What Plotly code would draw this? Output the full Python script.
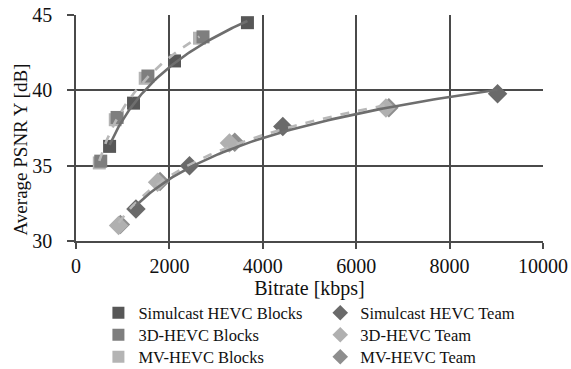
import numpy as np
import plotly.graph_objects as go

# ---- data ----
sim_blocks_x = [719, 1232, 2109, 3671]
sim_blocks_y = [36.28, 39.15, 41.95, 44.49]
d3_blocks_x = [530, 880, 1540, 2720]
d3_blocks_y = [35.3, 38.2, 40.95, 43.55]
mv_blocks_x = [499, 841, 1482, 2645]
mv_blocks_y = [35.18, 38.05, 40.8, 43.46]

sim_team_x = [1283, 2430, 4428, 9027]
sim_team_y = [32.13, 35.0, 37.6, 39.77]
d3_team_x = [912, 1746, 3286, 6637]
d3_team_y = [31.03, 33.9, 36.5, 38.82]
mv_team_x = [950, 1800, 3400, 6700]
mv_team_y = [31.1, 33.95, 36.55, 38.85]

x_ticks = [0, 2000, 4000, 6000, 8000, 10000]
y_ticks = [30, 35, 40, 45]

FONT = "Liberation Serif, Times New Roman, serif"

fig = go.Figure()


def log_trend(xs, ys, color, dash):
    a, b = np.polyfit(np.log(xs), ys, 1)
    xx = np.linspace(min(xs), max(xs), 80)
    fig.add_trace(go.Scatter(x=xx, y=a * np.log(xx) + b, mode="lines",
                             line=dict(color=color, width=2.6, dash=dash),
                             showlegend=False, hoverinfo="skip"))


# name, x, y, symbol, colour, legend column, legend row
series = [
    ("MV-HEVC Blocks", mv_blocks_x, mv_blocks_y, "square", "#b4b4b4", 0, 2),
    ("3D-HEVC Blocks", d3_blocks_x, d3_blocks_y, "square", "#7e7e7e", 0, 1),
    ("Simulcast HEVC Blocks", sim_blocks_x, sim_blocks_y, "square", "#575757", 0, 0),
    ("MV-HEVC Team", mv_team_x, mv_team_y, "diamond", "#8e8e8e", 1, 2),
    ("3D-HEVC Team", d3_team_x, d3_team_y, "diamond", "#b0b0b0", 1, 1),
    ("Simulcast HEVC Team", sim_team_x, sim_team_y, "diamond", "#6a6a6a", 1, 0),
]

legends = {}
for i, (name, xs, ys, sym, col, c, r) in enumerate(series):
    key = "legend" if i == 0 else f"legend{i + 1}"
    fig.add_trace(go.Scatter(x=xs, y=ys, mode="markers", name=name, legend=key,
                             marker=dict(symbol=sym, size=13 if sym == "square" else 15,
                                         color=col, line=dict(width=0))))
    top_px = 295.5 + 22 * r
    legends[key] = dict(orientation="v", yanchor="top", y=-(top_px - 241) / 226,
                        xanchor="left", x=[0.048, 0.523][c],
                        itemwidth=30, itemsizing="constant",
                        bgcolor="rgba(0,0,0,0)",
                        font=dict(family=FONT, size=16.5, color="#111"))

log_trend(mv_blocks_x, mv_blocks_y, "#b8b8b8", "dash")
log_trend(sim_blocks_x, sim_blocks_y, "#6e6e6e", "solid")
log_trend(d3_team_x, d3_team_y, "#b8b8b8", "dash")
log_trend(sim_team_x, sim_team_y, "#6e6e6e", "solid")

fig.update_layout(
    width=571, height=369,
    margin=dict(l=76, r=28, t=15, b=128, autoexpand=False),
    paper_bgcolor="white", plot_bgcolor="white",
    font=dict(family=FONT, size=20, color="#111"),
    annotations=[dict(text="Average PSNR Y [dB]", textangle=-90,
                      xref="paper", yref="paper", x=-0.119, y=0.407,
                      xanchor="center", yanchor="middle", showarrow=False,
                      font=dict(family=FONT, size=19, color="#111"))],
    **legends,
)
fig.update_xaxes(range=[0, 10000], tickvals=x_ticks, ticktext=[str(v) for v in x_ticks],
                 showgrid=True, gridcolor="#4a4a4a", gridwidth=1.5,
                 showline=True, linecolor="#4a4a4a", linewidth=1.5,
                 ticks="outside", ticklen=6, tickcolor="#4a4a4a", tickwidth=1.5,
                 ticklabelstandoff=0, zeroline=False,
                 tickfont=dict(family=FONT, size=20),
                 title=dict(text="Bitrate [kbps]", standoff=4,
                            font=dict(family=FONT, size=20)))
fig.update_yaxes(range=[30, 45], tickvals=y_ticks,
                 showgrid=True, gridcolor="#4a4a4a", gridwidth=1.5,
                 showline=True, linecolor="#4a4a4a", linewidth=1.5,
                 ticks="outside", ticklen=7, tickcolor="#4a4a4a", tickwidth=1.5,
                 ticklabelstandoff=11, zeroline=False,
                 tickfont=dict(family=FONT, size=20))

fig.write_html("out.html", config={"displayModeBar": False},
               post_script="document.body.style.margin='0';")
